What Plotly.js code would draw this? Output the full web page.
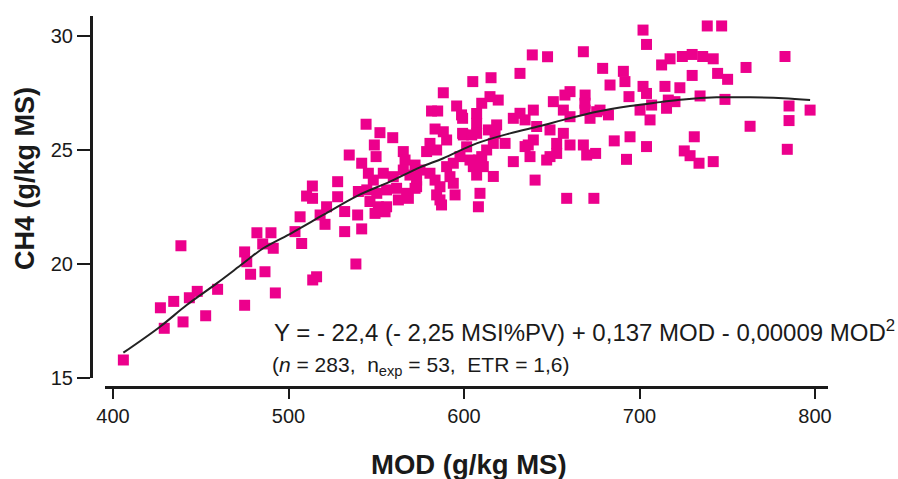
<!DOCTYPE html>
<html>
<head>
<meta charset="utf-8">
<script src="https://cdn.plot.ly/plotly-3.0.1.min.js"></script>
<style>html,body{margin:0;padding:0;background:#fff;}#chart{width:898px;height:479px;}</style>
</head>
<body>
<div id="chart"></div>
<script>
// Observed points: MOD (g/kg MS) vs CH4 (g/kg MS)
const modX = [405.9,438.7,427.0,434.6,429.2,439.9,443.5,448.0,452.8,459.6,475.0,475.0,476.2,478.4,486.6,492.5,482.0,490.0,485.3,491.3,
503.7,506.6,507.5,513.6,510.3,513.7,528.0,528.0,521.7,518.0,520.8,513.8,516.0,532.0,532.0,538.4,539.4,541.7,534.6,541.7,
544.2,548.9,552.1,559.4,549.9,539.8,565.4,566.4,572.1,545.5,548.3,554.0,559.7,565.4,569.2,573.0,544.6,550.3,555.9,561.6,
567.3,572.1,546.4,551.2,555.9,549.3,555.0,562.6,568.3,581.5,585.0,583.5,595.8,598.6,607.2,607.2,599.2,607.2,613.9,617.7,
580.6,584.4,608.2,611.0,616.7,609.1,608.2,587.2,594.9,588.2,610.1,614.8,619.5,618.6,628.1,631.9,634.8,639.5,636.6,637.6,
628.1,640.5,588.2,599.6,604.4,623.4,578.7,590.1,601.5,597.7,593.9,590.1,603.4,610.1,612.9,616.7,605.3,607.2,574.9,573.0,
580.6,583.5,586.3,584.4,586.3,592.0,593.9,605.0,615.4,631.9,638.9,647.6,668.0,704.0,702.0,679.0,690.8,691.7,683.2,694.0,
702.0,704.0,712.6,714.5,715.4,700.3,706.0,694.6,704.0,685.6,692.6,675.0,669.9,668.0,660.4,658.5,674.0,649.0,652.8,599.2,
650.9,657.5,660.4,669.0,669.0,675.6,682.3,634.8,668.9,656.6,677.5,671.8,660.4,649.0,656.6,652.8,639.5,641.4,706.9,647.1,
738.6,746.8,782.9,760.7,717.4,724.4,730.0,736.0,742.0,730.0,744.5,750.2,723.0,734.5,748.7,716.4,720.2,785.2,785.2,797.2,
763.0,784.2,731.2,725.5,728.8,733.9,742.0];
const ch4Y = [15.79,20.8,18.08,18.36,17.18,17.46,18.52,18.8,17.73,18.89,18.19,20.53,20.1,19.55,19.66,18.73,21.37,21.37,20.88,20.69,
21.42,22.07,20.9,23.42,22.98,22.88,23.61,22.95,22.51,22.15,21.74,19.3,19.44,22.3,21.42,20.0,22.15,21.54,24.78,24.42,
26.13,25.22,25.76,25.54,24.71,23.18,24.93,24.56,24.34,23.98,23.68,23.98,23.83,24.12,23.9,23.68,23.25,23.1,23.25,23.32,
23.1,23.32,22.74,22.51,22.51,22.22,22.29,22.81,22.88,26.71,26.71,25.92,26.93,26.54,26.6,26.17,25.73,25.73,25.88,25.73,
25.29,25.0,24.56,24.27,23.84,23.1,22.51,22.59,23.03,27.51,27.05,27.34,27.19,26.1,26.39,26.61,26.32,26.75,25.22,24.71,
24.49,23.68,25.8,25.66,25.66,25.29,24.93,25.44,25.14,24.71,24.42,24.27,24.56,24.71,25.0,25.29,24.27,23.9,24.12,23.39,
23.98,23.68,23.39,23.03,22.81,23.83,23.54,28.0,28.17,28.36,29.17,29.09,29.31,29.63,30.26,28.58,28.45,28.0,27.85,27.34,
27.79,27.48,28.73,27.79,26.83,26.75,26.32,25.58,25.15,25.4,24.59,24.85,24.78,25.22,25.22,22.88,22.88,24.71,24.85,26.39,
27.12,27.41,27.56,27.41,26.75,26.68,26.54,25.15,27.05,26.75,26.75,26.39,26.46,25.88,25.73,25.29,25.44,26.03,26.97,24.56,
30.44,30.44,29.1,28.62,29.0,29.1,29.19,29.1,29.0,28.27,28.36,28.1,27.73,27.37,27.22,27.19,27.12,26.93,26.29,26.75,
26.04,25.03,25.58,24.96,24.75,24.42,24.49];

// Fitted curve
const curveX = [405.9,426.8,442,459.1,474.2,485.6,502,519.8,538.9,557.8,574.9,588.2,607.2,626.2,643.3,656.6,675.6,694.6,711.7,725,744,763,782,797.2];
const curveY = [16.11,17.25,18.2,19.15,20.03,20.69,21.37,22.15,22.98,23.61,24.24,24.64,25.29,25.73,26.05,26.32,26.68,26.93,27.1,27.22,27.31,27.31,27.27,27.19];

const xTicks = [400,500,600,700,800];
const yTicks = [15,20,25,30];

const eqLine1 = 'Y = - 22,4 (- 2,25 MSI%PV) + 0,137 MOD - 0,00009 MOD<sup>2</sup>';
const eqLine2 = '(<i>n</i> = 283,  n<sub>exp</sub> = 53,  ETR = 1,6)';
const xTitle = 'MOD (g/kg MS)';
const yTitle = 'CH4 (g/kg MS)';

const FONT = 'Liberation Sans, Arial, Helvetica, sans-serif';
const INK = '#1a1a1a';

const traces = [
  {x: modX, y: ch4Y, type: 'scatter', mode: 'markers',
   marker: {symbol: 'square', size: 11, color: '#EC008C', line: {width: 0}},
   hoverinfo: 'x+y', showlegend: false},
  {x: curveX, y: curveY, type: 'scatter', mode: 'lines',
   line: {color: '#222', width: 2, shape: 'spline', smoothing: 1},
   hoverinfo: 'skip', showlegend: false}
];

const layout = {
  width: 898, height: 479,
  margin: {l: 91, r: 70, t: 16, b: 92, pad: 0},
  paper_bgcolor: '#fff', plot_bgcolor: '#fff',
  font: {family: FONT, color: INK, size: 20},
  xaxis: {
    domain: [14/737, 1], anchor: 'free', position: 0,
    range: [395.44, 807.4], tickvals: xTicks, ticktext: xTicks.map(String),
    ticks: 'outside', ticklen: 10, tickwidth: 2, tickcolor: INK,
    showline: true, linewidth: 2.5, linecolor: INK,
    showgrid: false, zeroline: false,
    tickfont: {family: FONT, size: 20, color: INK}
  },
  yaxis: {
    domain: [9/371, 1], anchor: 'free', position: 0,
    range: [15, 30.877], tickvals: yTicks, ticktext: yTicks.map(String),
    ticks: 'outside', ticklen: 13, tickwidth: 2, tickcolor: INK,
    showline: true, linewidth: 2.5, linecolor: INK,
    showgrid: false, zeroline: false,
    tickfont: {family: FONT, size: 20, color: INK}
  },
  annotations: [
    {xref: 'paper', yref: 'paper', x: 0.2456, y: 0.152, xanchor: 'left', yanchor: 'middle',
     text: eqLine1, showarrow: false, font: {family: FONT, size: 24, color: INK}},
    {xref: 'paper', yref: 'paper', x: 0.2429, y: 0.0566, xanchor: 'left', yanchor: 'middle',
     text: eqLine2, showarrow: false, font: {family: FONT, size: 21, color: INK}},
    {xref: 'paper', yref: 'paper', x: 0.513, y: -0.210, xanchor: 'center', yanchor: 'middle',
     text: '<b>' + xTitle + '</b>', showarrow: false, font: {family: FONT, size: 27.5, color: INK}},
    {xref: 'paper', yref: 'paper', x: -0.0896, y: 0.563, xanchor: 'center', yanchor: 'middle',
     text: '<b>' + yTitle + '</b>', textangle: -90, showarrow: false, font: {family: FONT, size: 27, color: INK}}
  ]
};

Plotly.newPlot('chart', traces, layout, {displayModeBar: false, staticPlot: true});
</script>
</body>
</html>
